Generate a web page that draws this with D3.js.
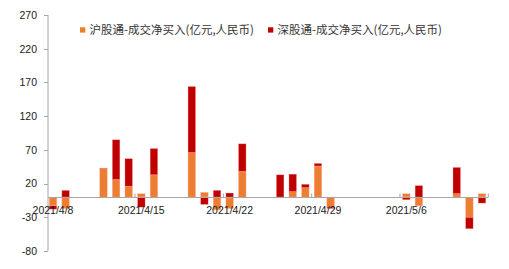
<!DOCTYPE html>
<html>
<head>
<meta charset="utf-8">
<script src="https://cdn.jsdelivr.net/npm/d3@7/dist/d3.min.js"></script>
<style>
  html, body { margin: 0; padding: 0; background: #fff; }
  svg { display: block; }
</style>
</head>
<body>
<svg id="chart" width="509" height="269"></svg>
<script>
// trading days and net buy values (亿元)
var tradeDates = ["2021-04-08", "2021-04-09", "2021-04-12", "2021-04-13", "2021-04-14",
                  "2021-04-15", "2021-04-16", "2021-04-19", "2021-04-20", "2021-04-21",
                  "2021-04-22", "2021-04-23", "2021-04-26", "2021-04-27", "2021-04-28",
                  "2021-04-29", "2021-04-30", "2021-05-06", "2021-05-07", "2021-05-10",
                  "2021-05-11", "2021-05-12"];
var shValues = [-13, -17, 42, 26, 16, 5, 33, 66, 7, -19, -17, 38, -1, 8, 14, 46, -15, 5, -13, 5, -30, 5];
var szValues = [-5, 10, 1, 59, 41, -15, 39, 98, -11, 10, 6, 41, 33, 26, 5, 4, -2, -4, 17, 39, -17, -9];
var seriesNames = ["沪股通-成交净买入(亿元,人民币)", "深股通-成交净买入(亿元,人民币)"];
var seriesColors = ["#ED7D31", "#C00000"];
var yTicks = [-80, -30, 20, 70, 120, 170, 220, 270];
var xLabelDates = ["2021-04-08", "2021-04-15", "2021-04-22", "2021-04-29", "2021-05-06"];

var svg = d3.select("#chart");
var parse = d3.timeParse("%Y-%m-%d");
var fmtKey = d3.timeFormat("%Y-%m-%d");
var fmtLabel = function(d) { return d.getFullYear() + "/" + (d.getMonth() + 1) + "/" + d.getDate(); };

// calendar axis: every day from first to last trading day
var first = parse(tradeDates[0]), last = parse(tradeDates[tradeDates.length - 1]);
var allDays = d3.timeDay.range(first, d3.timeDay.offset(last, 1)).map(fmtKey);

var x = d3.scaleBand()
    .domain(allDays)
    .range([46.7, 488.3])
    .paddingInner(0.4)
    .paddingOuter(0.2);

var y = d3.scaleLinear().domain([-80, 270]).range([251, 15]);

var rows = tradeDates.map(function(d, i) {
    return { date: d, sh: shValues[i], sz: szValues[i] };
});

var stack = d3.stack().keys(["sh", "sz"]).offset(d3.stackOffsetDiverging);
var layers = stack(rows);

// bars
svg.append("g").selectAll("g")
    .data(layers)
    .join("g")
    .attr("fill", function(d, i) { return seriesColors[i]; })
    .selectAll("rect")
    .data(function(d) { return d; })
    .join("rect")
    .attr("x", function(d) { return x(d.data.date); })
    .attr("width", x.bandwidth())
    .attr("y", function(d) { return y(Math.max(d[0], d[1])); })
    .attr("height", function(d) { return Math.abs(y(d[0]) - y(d[1])); })
    .attr("stroke", "rgba(255,190,190,0.55)")
    .attr("stroke-width", 0.6);

var axisColor = "#a6a6a6";

// y axis
var yAxis = svg.append("g").attr("transform", "translate(48,0)");
yAxis.append("line")
    .attr("y1", y(270)).attr("y2", y(-80))
    .attr("stroke", axisColor);
yAxis.selectAll("line.tick")
    .data(yTicks)
    .join("line")
    .attr("class", "tick")
    .attr("x1", -4).attr("x2", 0)
    .attr("y1", function(d) { return Math.round(y(d)) + 0.5; })
    .attr("y2", function(d) { return Math.round(y(d)) + 0.5; })
    .attr("stroke", axisColor);
yAxis.selectAll("text")
    .data(yTicks)
    .join("text")
    .attr("x", -11)
    .attr("y", function(d) { return y(d) + 3.8; })
    .attr("text-anchor", "end")
    .attr("font-family", "Liberation Sans, Arial, sans-serif")
    .attr("font-size", "10.5px")
    .attr("fill", "#1a1a1a")
    .text(function(d) { return d; });

// x axis on zero line
var y0 = Math.round(y(0)) + 0.5;
var xAxis = svg.append("g");
xAxis.append("line")
    .attr("x1", 48).attr("x2", 488.3)
    .attr("y1", y0).attr("y2", y0)
    .attr("stroke", axisColor);
var stepOff = x.step() * x.paddingInner() / 2;
var tickX = xLabelDates.slice(1).map(function(d) { return x(d) - stepOff; }).concat([488.3]);
xAxis.selectAll("line.tick")
    .data(tickX)
    .join("line")
    .attr("class", "tick")
    .attr("x1", function(d) { return d; }).attr("x2", function(d) { return d; })
    .attr("y1", y0 - 4).attr("y2", y0)
    .attr("stroke", axisColor);
xAxis.selectAll("text")
    .data(xLabelDates)
    .join("text")
    .attr("x", function(d) { return x(d) + x.bandwidth() / 2; })
    .attr("y", 213.5)
    .attr("text-anchor", "middle")
    .attr("font-family", "Liberation Sans, Arial, sans-serif")
    .attr("font-size", "10.5px")
    .attr("fill", "#1a1a1a")
    .text(function(d) { return fmtLabel(parse(d)); });

// legend
var legendX = [80, 268];
var legend = svg.append("g").selectAll("g")
    .data(seriesNames)
    .join("g")
    .attr("transform", function(d, i) { return "translate(" + legendX[i] + ",0)"; });
legend.append("rect")
    .attr("x", 0).attr("y", 27.3)
    .attr("width", 5.3).attr("height", 5.3)
    .attr("fill", function(d, i) { return seriesColors[i]; });
legend.append("text")
    .attr("x", 9.5)
    .attr("y", 34)
    .attr("font-family", "Noto Sans CJK SC, sans-serif")
    .attr("font-size", "11.5px")
    .attr("fill", "#333")
    .text(function(d) { return d; });
</script>
</body>
</html>
